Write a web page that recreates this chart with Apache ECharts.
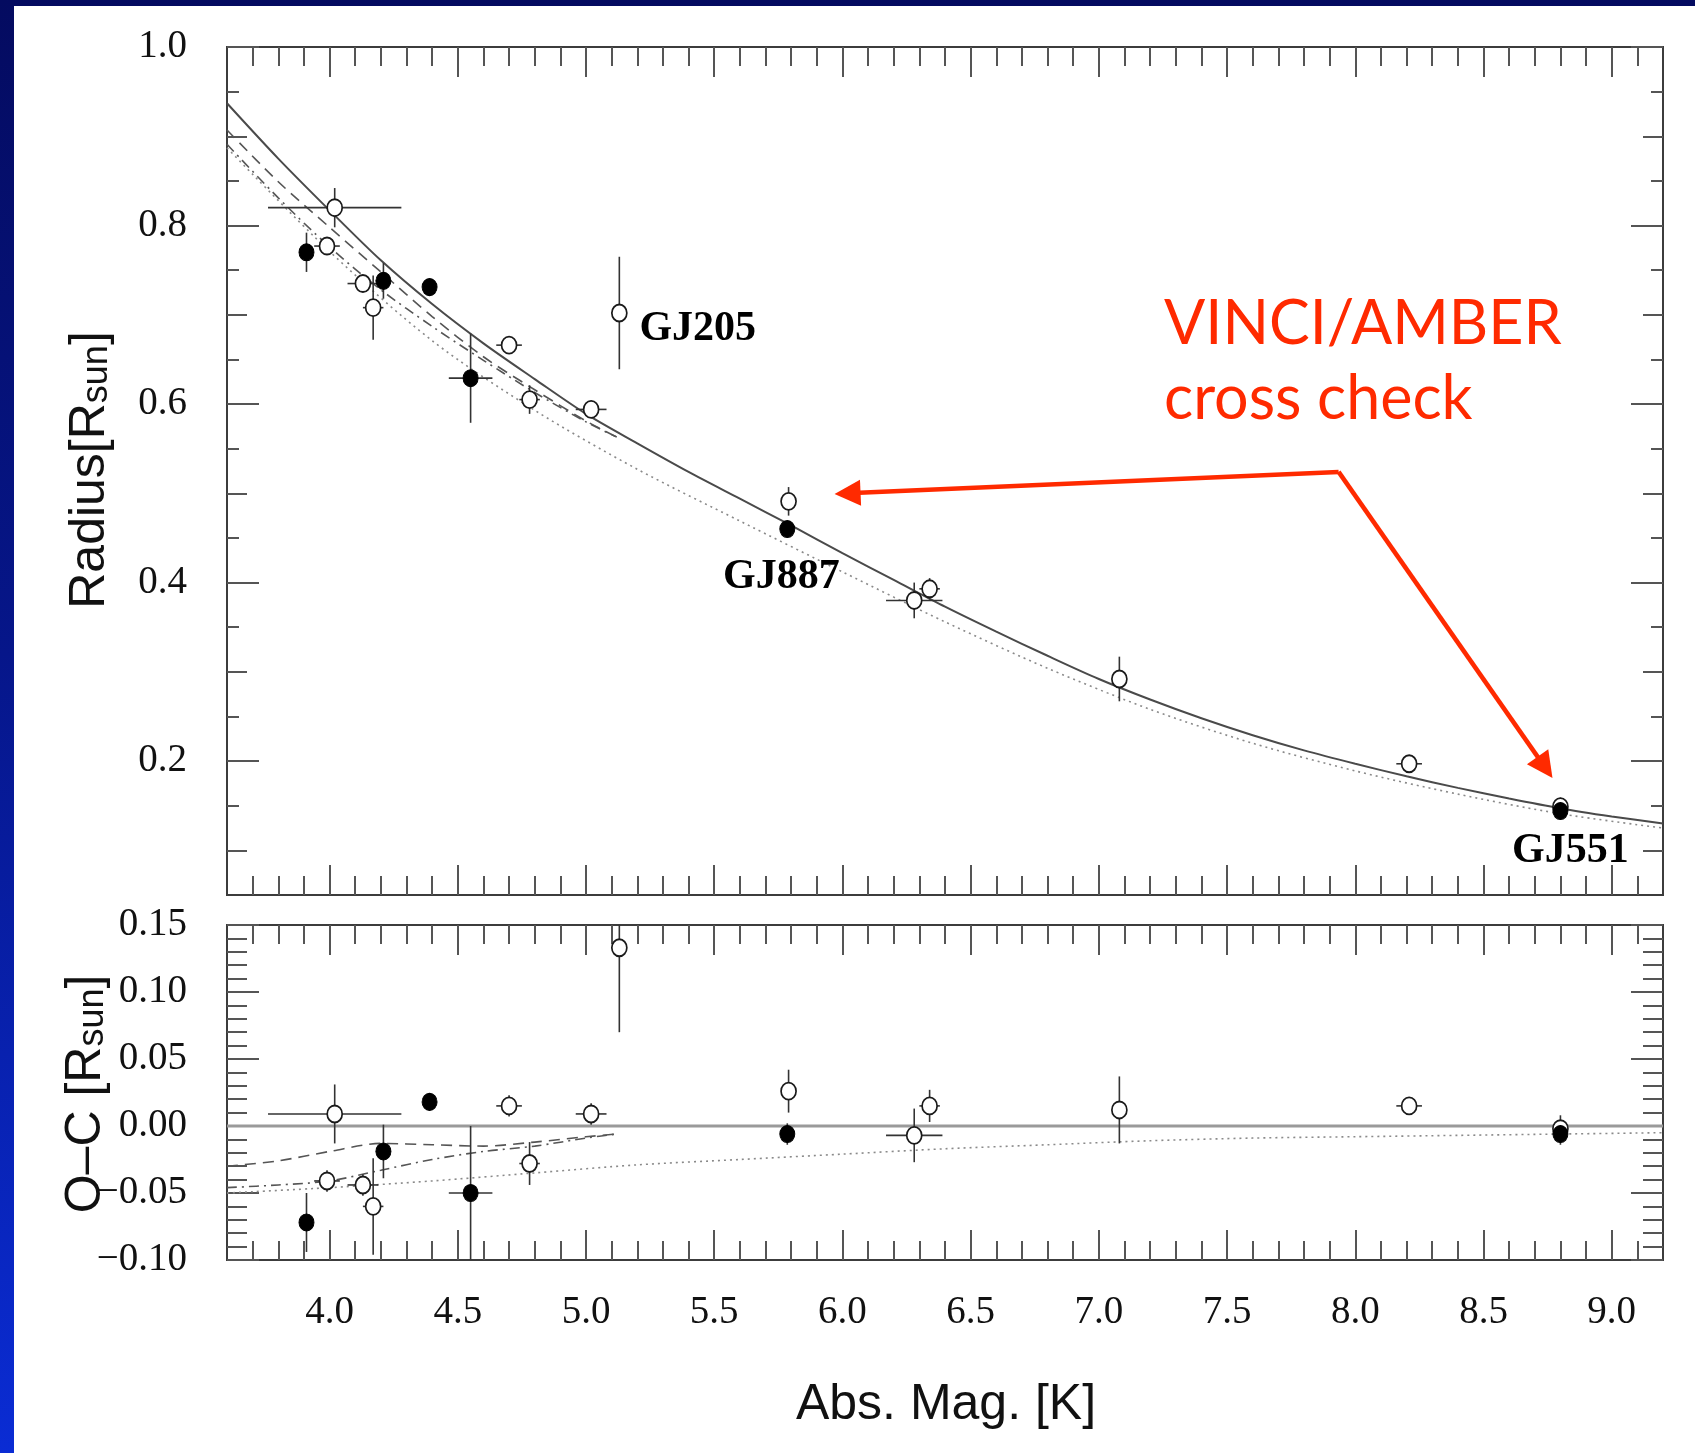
<!DOCTYPE html>
<html>
<head>
<meta charset="utf-8">
<title>Radius vs absolute K magnitude</title>
<script src="https://cdn.jsdelivr.net/npm/echarts@6/dist/echarts.min.js"></script>
<style>
  html, body { margin: 0; padding: 0; width: 1695px; height: 1453px; overflow: hidden;
    background: linear-gradient(to bottom, #040b60 0%, #06168a 45%, #0a2cd4 100%); }
  #paper { position: absolute; left: 14px; top: 6px; right: 0; bottom: 0; background: #ffffff; }
  #chart { position: absolute; left: 0; top: 0; width: 1695px; height: 1453px; }
</style>
</head>
<body>
<div id="paper"></div>
<div id="chart"></div>
<script>
// ---- axis ticks and labels ----
const magTicks = [4.0, 4.5, 5.0, 5.5, 6.0, 6.5, 7.0, 7.5, 8.0, 8.5, 9.0];
const magTickLabels = ['4.0', '4.5', '5.0', '5.5', '6.0', '6.5', '7.0', '7.5', '8.0', '8.5', '9.0'];
const radiusTicks = [0.2, 0.4, 0.6, 0.8, 1.0];
const radiusTickLabels = ['0.2', '0.4', '0.6', '0.8', '1.0'];
const radiusMidTicks = [0.1, 0.3, 0.5, 0.7, 0.9];
const ocTicks = [-0.10, -0.05, 0.00, 0.05, 0.10, 0.15];
const ocTickLabels = ['\u22120.10', '\u22120.05', '0.00', '0.05', '0.10', '0.15'];

// ---- interferometric radii: open symbols ----
const openMag      = [4.02, 3.99, 4.13, 4.17, 4.70, 4.78, 5.02, 5.13, 5.79, 6.34, 6.28, 7.08, 8.21, 8.80];
const openRadius   = [0.820, 0.777, 0.735, 0.708, 0.666, 0.605, 0.594, 0.702, 0.491, 0.393, 0.380, 0.292, 0.197, 0.149];
const openOC       = [0.009, -0.041, -0.044, -0.060, 0.015, -0.028, 0.009, 0.133, 0.026, 0.015, -0.007, 0.012, 0.015, -0.002];
const openMagErr   = [0.26, 0.05, 0.06, 0.04, 0.05, 0.04, 0.06, 0.03, 0.02, 0.04, 0.11, 0.02, 0.05, 0.02];
const openRadErr   = [0.022, 0.008, 0.008, 0.036, 0.008, 0.016, 0.008, 0.063, 0.016, 0.012, 0.020, 0.025, 0.006, 0.010];

// ---- filled symbols ----
const filledMag    = [3.91, 4.21, 4.39, 4.55, 5.785, 8.80];
const filledRadius = [0.770, 0.738, 0.731, 0.629, 0.460, 0.144];
const filledOC     = [-0.072, -0.019, 0.018, -0.050, -0.006, -0.006];
const filledMagErr = [0.02, 0.03, 0.0, 0.085, 0.02, 0.0];
const filledRadErr = [0.022, 0.020, 0.0, 0.050, 0.008, 0.008];

// ---- labelled stars ----
const starNames  = ['GJ205', 'GJ887', 'GJ551'];
const starMag    = [5.13, 5.785, 8.80];
const starRadius = [0.702, 0.460, 0.144];

// ---- polynomial relation (solid) ----
const fitMag    = [3.6, 3.8, 4.0, 4.2, 4.4, 4.6, 4.8, 5.0, 5.2, 5.4, 5.6, 5.8, 6.0, 6.2, 6.4,
                   6.6, 6.8, 7.0, 7.2, 7.4, 7.6, 7.8, 8.0, 8.2, 8.4, 8.6, 8.8, 9.0, 9.2];
const fitRadius = [0.937, 0.875, 0.817, 0.761, 0.712, 0.668, 0.628, 0.589, 0.556, 0.524, 0.494, 0.464, 0.433, 0.403, 0.373,
                   0.345, 0.318, 0.292, 0.269, 0.248, 0.229, 0.212, 0.197, 0.183, 0.170, 0.158, 0.147, 0.138, 0.130];
const zeroMag = [3.6, 9.2];
const zeroOC  = [0, 0];

// ---- model relation (dotted) ----
const dotMag    = [3.6, 4.0, 4.4, 4.8, 5.2, 5.6, 6.0, 6.4, 6.8, 7.2, 7.6, 8.0, 8.4, 8.8, 9.2];
const dotRadius = [0.887, 0.771, 0.671, 0.593, 0.527, 0.469, 0.412, 0.356, 0.304, 0.258, 0.220, 0.189, 0.163, 0.141, 0.125];
const dotOC     = [-0.050, -0.046, -0.041, -0.035, -0.029, -0.025, -0.021, -0.017, -0.014, -0.011, -0.009, -0.008, -0.007, -0.006, -0.005];

// ---- model relations (dashed, dash-dot) ----
const dashMag       = [3.6, 3.8, 4.0, 4.2, 4.4, 4.6, 4.8, 5.0, 5.12];
const dashRadius    = [0.907, 0.849, 0.798, 0.748, 0.698, 0.653, 0.616, 0.581, 0.563];
const dashOC        = [-0.030, -0.026, -0.019, -0.013, -0.014, -0.015, -0.012, -0.008, -0.006];
const dashDotRadius = [0.891, 0.831, 0.776, 0.728, 0.687, 0.649, 0.613, 0.580, 0.563];
const dashDotOC     = [-0.046, -0.044, -0.041, -0.033, -0.025, -0.019, -0.015, -0.009, -0.006];

// ---- annotation arrows (data coordinates: from the bend to each tip) ----
const arrowBend = [7.935, 0.524];
const arrowTips = [[6.02, 0.500], [8.74, 0.193]];

// ---------------------------------------------------------------
const X_MIN = 3.6, X_MAX = 9.2;
const frameStyle = { color: '#3c3c3c', width: 2 };
const tickStyle = { color: '#555555', width: 2 };
const serif = '"Liberation Serif", "Times New Roman", serif';
const sans = '"Liberation Sans", Arial, sans-serif';

function pairs(xs, ys) { return xs.map((x, i) => [x, ys[i]]); }
function lookup(ticks, labels) {
  return v => { const i = ticks.findIndex(t => Math.abs(t - v) < 1e-6); return i >= 0 ? labels[i] : ''; };
}
function stepTicks(from, to, div, skip) {
  const out = [];
  for (let k = from; k <= to; k++) if (!skip || k % skip !== 0) out.push(k / div);
  return out;
}
const magMinor = stepTicks(37, 91, 10, 5);
const radiusShort = stepTicks(3, 19, 20, 2);
const ocMinor = stepTicks(-9, 14, 100, 5);

const xAxes = [], yAxes = [];
function addX(grid, pos, ticks, len, withLabels) {
  xAxes.push({
    type: 'value', gridIndex: grid, position: pos, min: X_MIN, max: X_MAX,
    axisLine: { show: true, onZero: false, lineStyle: frameStyle },
    axisTick: { show: true, inside: true, length: len, customValues: ticks, lineStyle: tickStyle },
    axisLabel: withLabels ? {
      show: true, customValues: magTicks, formatter: lookup(magTicks, magTickLabels),
      margin: 33, fontFamily: serif, fontSize: 39, color: '#111'
    } : { show: false },
    splitLine: { show: false }
  });
  return xAxes.length - 1;
}
function addY(grid, pos, min, max, ticks, len, labelTicks, labelTexts) {
  yAxes.push({
    type: 'value', gridIndex: grid, position: pos, min: min, max: max,
    axisLine: { show: true, onZero: false, lineStyle: frameStyle },
    axisTick: { show: true, inside: true, length: len, customValues: ticks, lineStyle: tickStyle },
    axisLabel: labelTicks ? {
      show: true, customValues: labelTicks, formatter: lookup(labelTicks, labelTexts),
      margin: 40, fontFamily: serif, fontSize: 39, color: '#111'
    } : { show: false },
    splitLine: { show: false }
  });
  return yAxes.length - 1;
}

// upper panel axes
const xTop = addX(0, 'bottom', magTicks, 30, false);
addX(0, 'bottom', magMinor, 19, false);
addX(0, 'top', magTicks, 30, false);
addX(0, 'top', magMinor, 19, false);
const yTop = addY(0, 'left', 0.05, 1.0, radiusTicks, 32, radiusTicks, radiusTickLabels);
addY(0, 'left', 0.05, 1.0, radiusMidTicks, 20);
addY(0, 'left', 0.05, 1.0, radiusShort, 12);
addY(0, 'right', 0.05, 1.0, radiusTicks, 32);
addY(0, 'right', 0.05, 1.0, radiusMidTicks, 20);
addY(0, 'right', 0.05, 1.0, radiusShort, 12);
// lower panel axes
const xBot = addX(1, 'bottom', magTicks, 30, true);
addX(1, 'bottom', magMinor, 19, false);
addX(1, 'top', magTicks, 30, false);
addX(1, 'top', magMinor, 19, false);
const yBot = addY(1, 'left', -0.10, 0.15, ocTicks, 32, ocTicks, ocTickLabels);
addY(1, 'left', -0.10, 0.15, ocMinor, 20);
addY(1, 'right', -0.10, 0.15, ocTicks, 32);
addY(1, 'right', -0.10, 0.15, ocMinor, 20);

function curve(name, xi, yi, xs, ys, color, width, type, z) {
  return {
    type: 'line', name, xAxisIndex: xi, yAxisIndex: yi, data: pairs(xs, ys),
    showSymbol: false, symbol: 'none', smooth: 0.3, silent: true, z: z || 1,
    lineStyle: { color, width, type }
  };
}

function errorBars(name, xi, yi, xs, ys, xErr, yErr) {
  return {
    type: 'custom', name, xAxisIndex: xi, yAxisIndex: yi, silent: true, z: 2,
    data: xs.map((x, i) => [x, ys[i], xErr[i], yErr[i]]),
    encode: { x: 0, y: 1 },
    renderItem(params, api) {
      const x = api.value(0), y = api.value(1), ex = api.value(2), ey = api.value(3);
      const cs = params.coordSys;
      const clampY = v => Math.max(cs.y, Math.min(cs.y + cs.height, v));
      const st = { stroke: '#333333', lineWidth: 1.6 };
      const kids = [];
      if (ex > 0) {
        const a = api.coord([x - ex, y]), b = api.coord([x + ex, y]);
        kids.push({ type: 'line', shape: { x1: a[0], y1: a[1], x2: b[0], y2: b[1] }, style: st });
      }
      if (ey > 0) {
        const a = api.coord([x, y - ey]), b = api.coord([x, y + ey]);
        kids.push({ type: 'line', shape: { x1: a[0], y1: clampY(a[1]), x2: b[0], y2: clampY(b[1]) }, style: st });
      }
      return { type: 'group', children: kids };
    }
  };
}

function points(name, xi, yi, xs, ys, filled) {
  return {
    type: 'scatter', name, xAxisIndex: xi, yAxisIndex: yi, data: pairs(xs, ys),
    symbol: 'circle', symbolSize: [15, 17], silent: true, z: 3,
    itemStyle: filled ? { color: '#000000', borderColor: '#000000', borderWidth: 1, opacity: 1 }
                      : { color: '#ffffff', borderColor: '#1a1a1a', borderWidth: 1.8, opacity: 1 }
  };
}

const labelPlacement = [
  { position: 'right', distance: 20, offset: [0, 16] },
  { position: 'bottom', distance: 27, offset: [-6, 0] },
  { position: 'bottom', distance: 19, offset: [10, 0] }
];

const series = [
  // upper panel
  curve('fit', xTop, yTop, fitMag, fitRadius, '#4a4a4a', 2, 'solid', 1),
  curve('dashed', xTop, yTop, dashMag, dashRadius, '#555555', 1.6, [11, 7], 1),
  curve('dashdot', xTop, yTop, dashMag, dashDotRadius, '#555555', 1.6, [10, 5, 2, 5], 1),
  curve('dotted', xTop, yTop, dotMag, dotRadius, '#8a8a8a', 1.6, [2, 4], 1),
  errorBars('openErr', xTop, yTop, openMag, openRadius, openMagErr, openRadErr),
  errorBars('filledErr', xTop, yTop, filledMag, filledRadius, filledMagErr, filledRadErr),
  points('open', xTop, yTop, openMag, openRadius, false),
  points('filled', xTop, yTop, filledMag, filledRadius, true),
  {
    type: 'scatter', name: 'names', xAxisIndex: xTop, yAxisIndex: yTop, silent: true, z: 4,
    symbolSize: 0.1, itemStyle: { color: '#000000', opacity: 1 },
    data: starNames.map((n, i) => ({
      value: [starMag[i], starRadius[i]],
      label: Object.assign({
        show: true, formatter: n, fontFamily: serif, fontWeight: 'bold', fontSize: 42,
        color: '#000000', opacity: 1
      }, labelPlacement[i])
    }))
  },
  {
    type: 'lines', name: 'arrows', coordinateSystem: 'cartesian2d', xAxisIndex: xTop, yAxisIndex: yTop,
    silent: true, z: 5, symbol: ['none', 'triangle'], symbolSize: [0, 26],
    lineStyle: { color: '#ff2a00', width: 4.5, opacity: 1, curveness: 0 },
    data: arrowTips.map(t => ({ coords: [arrowBend, t] }))
  },
  // lower panel
  curve('zero', xBot, yBot, zeroMag, zeroOC, '#9a9a9a', 3, 'solid', 1),
  curve('dashedOC', xBot, yBot, dashMag, dashOC, '#555555', 1.6, [11, 7], 1),
  curve('dashdotOC', xBot, yBot, dashMag, dashDotOC, '#555555', 1.6, [10, 5, 2, 5], 1),
  curve('dottedOC', xBot, yBot, dotMag, dotOC, '#8a8a8a', 1.6, [2, 4], 1),
  errorBars('openErrOC', xBot, yBot, openMag, openOC, openMagErr, openRadErr),
  errorBars('filledErrOC', xBot, yBot, filledMag, filledOC, filledMagErr, filledRadErr),
  points('openOC', xBot, yBot, openMag, openOC, false),
  points('filledOC', xBot, yBot, filledMag, filledOC, true)
];

const chart = echarts.init(document.getElementById('chart'), null, { renderer: 'canvas' });
chart.setOption({
  backgroundColor: 'transparent',
  animation: false,
  grid: [
    { left: 227, top: 47, width: 1436, height: 848 },
    { left: 227, top: 925, width: 1436, height: 335 }
  ],
  xAxis: xAxes,
  yAxis: yAxes,
  series: series,
  graphic: [
    { type: 'text', x: 1164, y: 324, silent: true,
      style: { text: 'VINCI/AMBER', fill: '#ff2a00', font: '61px Lato, "Open Sans", sans-serif', align: 'left', verticalAlign: 'middle' } },
    { type: 'text', x: 1164, y: 399, silent: true,
      style: { text: 'cross check', fill: '#ff2a00', font: '61px Lato, "Open Sans", sans-serif', align: 'left', verticalAlign: 'middle' } },
    { type: 'text', x: 90, y: 470, rotation: Math.PI / 2, silent: true,
      style: { text: 'Radius[R{sub|sun}]', fill: '#111', fontFamily: sans, fontSize: 50, lineHeight: 50,
        align: 'center', verticalAlign: 'middle',
        rich: { sub: { fontFamily: sans, fontSize: 36, lineHeight: 36, padding: [18, 0, 0, 0], verticalAlign: 'bottom' } } } },
    { type: 'text', x: 86, y: 1094, rotation: Math.PI / 2, silent: true,
      style: { text: 'O\u2013C [R{sub|sun}]', fill: '#111', fontFamily: sans, fontSize: 50, lineHeight: 50,
        align: 'center', verticalAlign: 'middle',
        rich: { sub: { fontFamily: sans, fontSize: 36, lineHeight: 36, padding: [18, 0, 0, 0], verticalAlign: 'bottom' } } } },
    { type: 'text', x: 946, y: 1405, silent: true,
      style: { text: 'Abs. Mag. [K]', fill: '#111', fontFamily: sans, fontSize: 50, align: 'center', verticalAlign: 'middle' } }
  ]
});
</script>
</body>
</html>
